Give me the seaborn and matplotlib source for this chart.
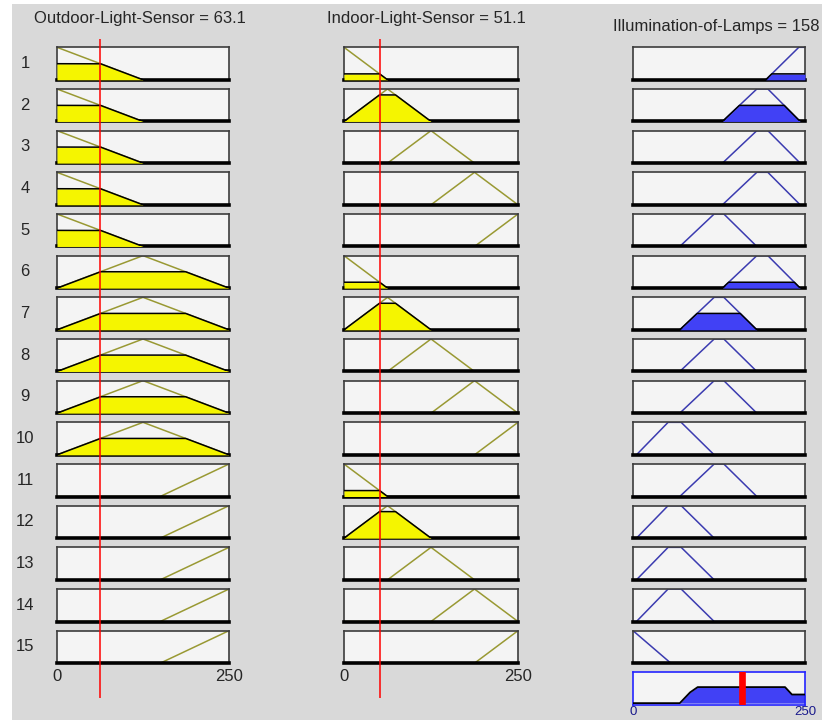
import numpy as np
import matplotlib
matplotlib.use('Agg')
import matplotlib.pyplot as plt
import seaborn as sns
from matplotlib.patches import Rectangle

# crisp input / output values
outdoor_value = 63.1
indoor_value = 51.1
lamps_value = 158

# Outdoor-Light-Sensor membership functions (breakpoints)
outdoor_low_x = [0, 125, 250]
outdoor_low_y = [1, 0, 0]
outdoor_mid_x = [0, 125, 250]
outdoor_mid_y = [0, 1, 0]
outdoor_high_x = [0, 150, 250]
outdoor_high_y = [0, 0, 1]

# Indoor-Light-Sensor membership functions
indoor_low_x = [0, 62.5, 250]
indoor_low_y = [1, 0, 0]
indoor_midlow_x = [0, 62.5, 125, 250]
indoor_midlow_y = [0, 1, 0, 0]
indoor_mid_x = [0, 62.5, 125, 187.5, 250]
indoor_mid_y = [0, 0, 1, 0, 0]
indoor_midhigh_x = [0, 125, 187.5, 250]
indoor_midhigh_y = [0, 0, 1, 0]
indoor_high_x = [0, 187.5, 250]
indoor_high_y = [0, 0, 1]

# Illumination-of-Lamps membership functions
lamps_low_x = [0, 55, 250]
lamps_low_y = [1, 0, 0]
lamps_midlow_x = [0, 5, 51, 70, 118, 250]
lamps_midlow_y = [0, 0, 1, 1, 0, 0]
lamps_mid_x = [0, 68, 118, 132, 180, 250]
lamps_mid_y = [0, 0, 1, 1, 0, 0]
lamps_high_x = [0, 130, 180, 196, 243, 250]
lamps_high_y = [0, 0, 1, 1, 0, 0]
lamps_vhigh_x = [0, 193, 241, 250]
lamps_vhigh_y = [0, 0, 1, 1]

# which membership function each of the 15 rules uses
rule_outdoor = ['low'] * 5 + ['mid'] * 5 + ['high'] * 5
rule_indoor = ['low', 'midlow', 'mid', 'midhigh', 'high'] * 3
rule_lamps = ['vhigh', 'high', 'high', 'high', 'mid',
              'high', 'mid', 'mid', 'mid', 'midlow',
              'mid', 'midlow', 'midlow', 'midlow', 'low']

# aggregated output shape (bottom right box)
agg_x = [0, 68, 83, 94, 221, 231, 250]
agg_y = [0, 0, 0.35, 0.52, 0.52, 0.28, 0.28]

tick_values = [0, 250]

outdoor_mfs = {'low': (outdoor_low_x, outdoor_low_y), 'mid': (outdoor_mid_x, outdoor_mid_y),
               'high': (outdoor_high_x, outdoor_high_y)}
indoor_mfs = {'low': (indoor_low_x, indoor_low_y), 'midlow': (indoor_midlow_x, indoor_midlow_y),
              'mid': (indoor_mid_x, indoor_mid_y), 'midhigh': (indoor_midhigh_x, indoor_midhigh_y),
              'high': (indoor_high_x, indoor_high_y)}
lamps_mfs = {'low': (lamps_low_x, lamps_low_y), 'midlow': (lamps_midlow_x, lamps_midlow_y),
             'mid': (lamps_mid_x, lamps_mid_y), 'high': (lamps_high_x, lamps_high_y),
             'vhigh': (lamps_vhigh_x, lamps_vhigh_y)}

sns.set_theme(style='white')
plt.rcParams['font.family'] = ['Liberation Sans', 'DejaVu Sans']

W, H = 822, 720
fig = plt.figure(figsize=(W / 100, H / 100), dpi=100)
fig.patch.set_facecolor('white')
fig.patches.append(Rectangle((12 / W, 0), 1, 1 - 4 / H, transform=fig.transFigure,
                             facecolor='#d9d9d9', edgecolor='none', zorder=-10))

FS = 12
BOX_BG = '#f4f4f4'
YELLOW = '#f5f500'
OLIVE = '#999933'
BLUE = '#4141f5'
NAVY = '#3b3bb0'


def px_axes(x0, y0, x1, y1):
    return fig.add_axes([x0 / W, 1 - y1 / H, (x1 - x0) / W, (y1 - y0) / H])


def style_box(ax):
    ax.set_xlim(0, 250)
    ax.set_ylim(0, 1)
    ax.set_xticks([])
    ax.set_yticks([])
    ax.set_xlabel('')
    ax.set_ylabel('')
    ax.set_facecolor(BOX_BG)
    for s in ['top', 'left', 'right']:
        ax.spines[s].set_color('#3c3c3c')
        ax.spines[s].set_linewidth(1.2)
    ax.spines['bottom'].set_color('black')
    ax.spines['bottom'].set_linewidth(2.6)


def draw_mf(ax, mf, level, line_c, fill_c):
    mx, my = mf
    sns.lineplot(x=mx, y=my, ax=ax, color=line_c, lw=1.1, estimator=None, sort=False)
    if level > 0:
        grid = np.linspace(0, 250, 501)
        clipped = np.minimum(np.interp(grid, mx, my), level)
        ax.fill_between(grid, 0, clipped, color=fill_c, lw=0, zorder=3)
        ax.plot(grid, clipped, color='black', lw=1.1, zorder=4)
    style_box(ax)


cols = [(57, 229), (344, 518), (633, 805)]
row_top0, pitch, box_h = 47.3, 41.67, 32.5

for i in range(15):
    top = row_top0 + i * pitch
    bot = top + box_h
    mu_out = np.interp(outdoor_value, *outdoor_mfs[rule_outdoor[i]])
    mu_in = np.interp(indoor_value, *indoor_mfs[rule_indoor[i]])
    strength = min(mu_out, mu_in)

    ax1 = px_axes(cols[0][0], top, cols[0][1], bot)
    draw_mf(ax1, outdoor_mfs[rule_outdoor[i]], mu_out, OLIVE, YELLOW)
    ax2 = px_axes(cols[1][0], top, cols[1][1], bot)
    draw_mf(ax2, indoor_mfs[rule_indoor[i]], mu_in, OLIVE, YELLOW)
    ax3 = px_axes(cols[2][0], top, cols[2][1], bot)
    draw_mf(ax3, lamps_mfs[rule_lamps[i]], strength, NAVY, BLUE)

    fig.text(25 / W, 1 - (top + box_h / 2) / H, str(i + 1), ha='center', va='center', fontsize=FS)

    if i == 14:
        for ax in (ax1, ax2):
            ax.set_xticks(tick_values)
            ax.set_xticklabels([str(v) for v in tick_values], fontsize=FS)
            ax.tick_params(axis='x', length=0, pad=4)

# aggregated output box
axa = px_axes(633, 672.3, 805, 705)
axa.set_xlim(0, 250)
axa.set_ylim(-0.06, 1)
axa.fill_between(agg_x, 0, agg_y, color=BLUE, lw=0, zorder=2)
sns.lineplot(x=agg_x, y=agg_y, ax=axa, color='black', lw=1.3, estimator=None, sort=False, zorder=3)
axa.axvline(lamps_value, color='red', lw=4.8, zorder=5)
axa.set_facecolor(BOX_BG)
axa.set_yticks([])
axa.set_ylabel('')
axa.set_xticks(tick_values)
axa.set_xticklabels([str(v) for v in tick_values], fontsize=9.5, color='#1a1a8c')
axa.tick_params(axis='x', length=0, pad=0.5)
for s in axa.spines.values():
    s.set_color('#2424ff')
    s.set_linewidth(1.2)

# red input lines across each input column
for (x0, x1), val in zip(cols[:2], [outdoor_value, indoor_value]):
    axr = px_axes(x0, 39.3, x1, 698)
    axr.set_xlim(0, 250)
    axr.axis('off')
    axr.axvline(val, color='red', lw=1.1)

# column titles
fig.text(139.5 / W, 1 - 23.3 / H, f'Outdoor-Light-Sensor = {outdoor_value}', ha='center', va='baseline', fontsize=FS)
fig.text(426 / W, 1 - 23.3 / H, f'Indoor-Light-Sensor = {indoor_value}', ha='center', va='baseline', fontsize=FS)
fig.text(716 / W, 1 - 30.7 / H, f'Illumination-of-Lamps = {lamps_value}', ha='center', va='baseline', fontsize=FS)

fig.savefig('out.png', dpi=100, facecolor=fig.get_facecolor())
